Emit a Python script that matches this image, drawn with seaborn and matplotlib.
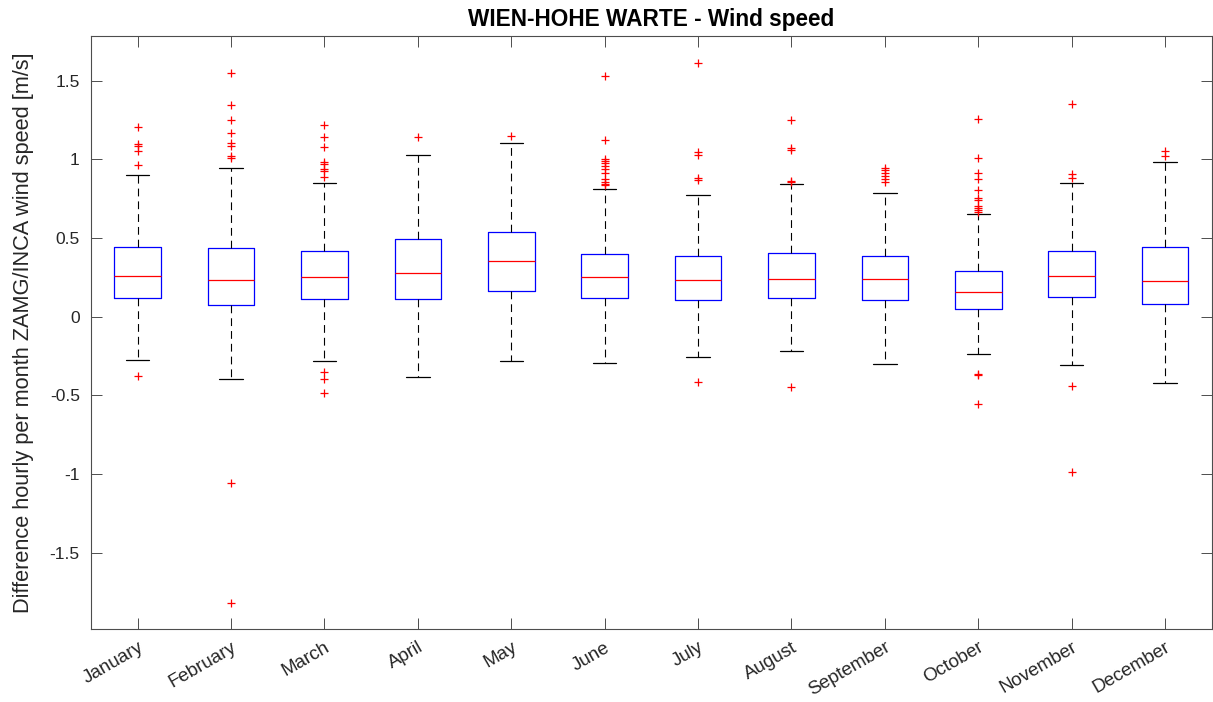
import numpy as np
import pandas as pd
import matplotlib
matplotlib.use("Agg")
import matplotlib.pyplot as plt
from matplotlib.ticker import FuncFormatter
import seaborn as sns

# ---------------- data ----------------
months = ["January", "February", "March", "April", "May", "June",
          "July", "August", "September", "October", "November", "December"]

q1           = [0.117, 0.074, 0.110, 0.114, 0.165, 0.121, 0.104, 0.117, 0.106, 0.049, 0.123, 0.079]
median       = [0.259, 0.233, 0.252, 0.278, 0.352, 0.252, 0.231, 0.238, 0.238, 0.159, 0.259, 0.229]
q3           = [0.441, 0.435, 0.416, 0.496, 0.540, 0.397, 0.388, 0.407, 0.388, 0.291, 0.416, 0.441]
whisker_low  = [-0.276, -0.398, -0.280, -0.386, -0.284, -0.292, -0.254, -0.218, -0.298, -0.235, -0.305, -0.424]
whisker_high = [0.901, 0.947, 0.850, 1.026, 1.106, 0.810, 0.776, 0.842, 0.786, 0.651, 0.853, 0.985]

outliers_jan = [1.206, 1.096, 1.087, 1.051, 0.966, -0.380]
outliers_feb = [1.547, 1.348, 1.249, 1.170, 1.102, 1.087, 1.024, 1.011, -1.059, -1.818]
outliers_mar = [1.219, 1.142, 1.079, 0.983, 0.969, 0.937, 0.928, 0.888, -0.352, -0.398, -0.485]
outliers_apr = [1.144]
outliers_may = [1.151]
outliers_jun = [1.528, 1.125, 1.005, 0.992, 0.975, 0.958, 0.937, 0.915, 0.877, 0.856, 0.844, 0.835]
outliers_jul = [1.613, 1.049, 1.030, 0.882, 0.871, -0.415]
outliers_aug = [1.250, 1.070, 1.060, 0.865, 0.856, -0.449]
outliers_sep = [0.947, 0.931, 0.912, 0.895, 0.876, 0.856]
outliers_oct = [1.255, 1.009, 0.912, 0.876, 0.804, 0.753, 0.742, 0.706, 0.693, 0.678, 0.668,
                -0.366, -0.373, -0.553]
outliers_nov = [1.350, 0.907, 0.884, -0.442, -0.985]
outliers_dec = [1.051, 1.019]

title = "WIEN-HOHE WARTE - Wind speed"
ylabel = "Difference hourly per month ZAMG/INCA wind speed [m/s]"
yticks = [-1.5, -1, -0.5, 0, 0.5, 1, 1.5]

# ---------------- build tables ----------------
# Each box is described by its five statistics; with whis=(0, 100) seaborn
# reproduces exactly these quartiles / whisker ends.
box_rows = []
for i, m in enumerate(months):
    for v in [whisker_low[i], q1[i], q1[i], median[i], q3[i], q3[i], whisker_high[i]]:
        box_rows.append({"month": m, "value": v})
box_df = pd.DataFrame(box_rows)

all_outliers = [outliers_jan, outliers_feb, outliers_mar, outliers_apr, outliers_may, outliers_jun,
                outliers_jul, outliers_aug, outliers_sep, outliers_oct, outliers_nov, outliers_dec]
out_rows = []
for m, vals in zip(months, all_outliers):
    for v in vals:
        out_rows.append({"month": m, "value": v})
out_df = pd.DataFrame(out_rows)

# ---------------- styling ----------------
sns.set_style("ticks")
plt.rcParams["font.family"] = ["Liberation Sans", "DejaVu Sans"]
plt.rcParams["axes.unicode_minus"] = False
text_col = "#262626"
axis_col = "#4d4d4d"

fig = plt.figure(figsize=(12.13, 7.02), dpi=100)
ax = fig.add_axes([0.075, 0.1036, 0.924, 0.8455])

sns.boxplot(
    data=box_df, x="month", y="value", order=months, ax=ax,
    width=0.5, whis=(0, 100), fill=False, showfliers=False, linewidth=0.9,
    boxprops=dict(color="#0000ff", linewidth=0.9),
    medianprops=dict(color="#ff0000", linewidth=0.9),
    whiskerprops=dict(color="black", linewidth=0.8, linestyle=(0, (7, 4.5))),
    capprops=dict(color="black", linewidth=0.9),
    capwidths=0.25,
)

sns.stripplot(
    data=out_df, x="month", y="value", order=months, ax=ax,
    jitter=False, marker="+", color="#ff0000", size=5.5, linewidth=0.9,
)

ax.set_xlim(-0.5, 11.5)
ax.set_ylim(-1.987, 1.786)
ax.set_yticks(yticks)
ax.yaxis.set_major_formatter(FuncFormatter(lambda v, p: f"{v:g}"))
ax.set_xticks(range(len(months)))
ax.set_xticklabels(months, rotation=30, ha="right", rotation_mode="anchor")

ax.tick_params(axis="both", direction="in", length=8, width=0.7, colors=axis_col,
               labelcolor=text_col, labelsize=12.5, top=True, right=True)
ax.tick_params(axis="x", labelsize=13.5, pad=7)
ax.tick_params(axis="y", pad=8)
for s in ax.spines.values():
    s.set_visible(True)
    s.set_color(axis_col)
    s.set_linewidth(0.8)

ax.set_xlabel("")
ax.set_ylabel(ylabel, fontsize=15.7, color=text_col, labelpad=11)
ax.set_title(title, fontsize=16.3, fontweight="bold", color="black", pad=7)

fig.savefig("out.png", dpi=100)
